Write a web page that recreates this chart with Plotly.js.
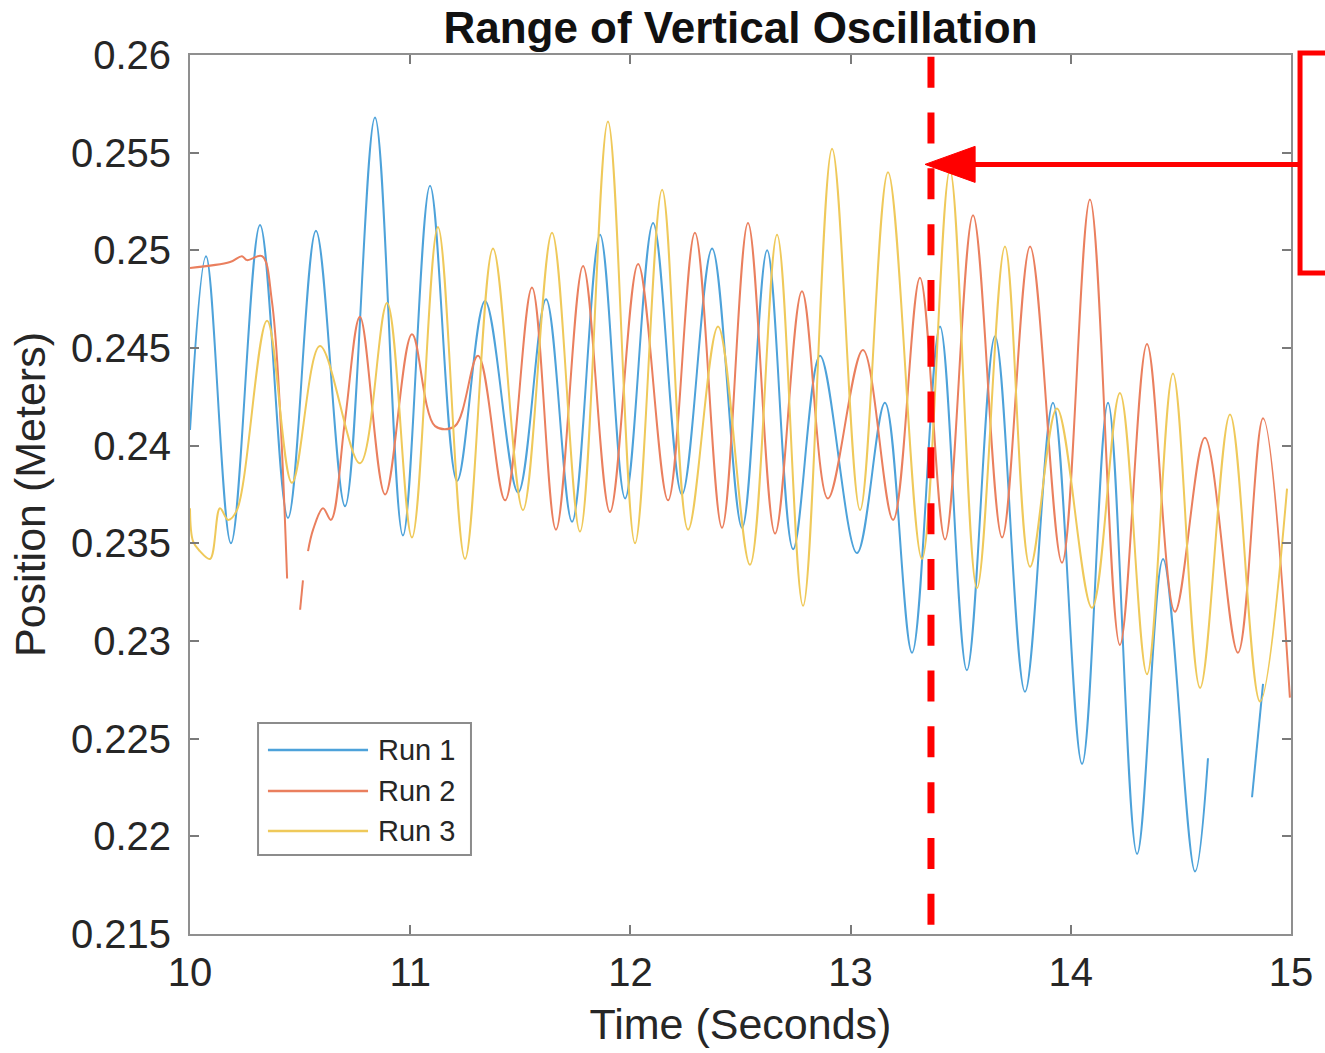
<!DOCTYPE html>
<html>
<head>
<meta charset="utf-8">
<script src="https://cdn.plot.ly/plotly-3.0.1.min.js"></script>
<style>html,body{margin:0;padding:0;background:#fff;}#chart{width:1325px;height:1053px;}</style>
</head>
<body>
<div id="chart"></div>
<script>
// ---- Data (turning points of each run) ----
const seriesNames = ["Run 1", "Run 2", "Run 3"];

const time1 = [10.000,10.073,10.186,10.318,10.445,10.572,10.704,10.840,10.967,11.090,11.213,11.340,11.490,11.617,11.735,11.862,11.976,12.103,12.234,12.371,12.507,12.621,12.739,12.861,13.029,13.156,13.279,13.406,13.528,13.656,13.792,13.919,14.051,14.169,14.301,14.419,14.564,14.623,14.700,14.823,14.873];
const run1  = [0.2408,0.2497,0.2350,0.2513,0.2363,0.2510,0.2369,0.2568,0.2354,0.2533,0.2382,0.2474,0.2376,0.2475,0.2361,0.2508,0.2373,0.2514,0.2375,0.2501,0.2358,0.2500,0.2347,0.2446,0.2345,0.2422,0.2294,0.2461,0.2285,0.2456,0.2274,0.2422,0.2237,0.2422,0.2191,0.2342,0.2182,0.2240,null,0.2220,0.2278];

const time2 = [10.000,10.182,10.236,10.259,10.327,10.372,10.441,10.470,10.500,10.513,10.525,10.536,10.559,10.604,10.640,10.704,10.772,10.886,11.008,11.113,11.203,11.308,11.431,11.553,11.662,11.785,11.907,12.035,12.171,12.293,12.416,12.534,12.657,12.779,12.897,13.056,13.193,13.315,13.429,13.556,13.688,13.815,13.960,14.087,14.223,14.346,14.473,14.609,14.759,14.873,14.995];
const run2  = [0.2491,0.2494,0.2497,0.2495,0.2497,0.2474,0.2332,null,0.2316,0.2331,null,0.2346,0.2357,0.2368,0.2362,0.2413,0.2466,0.2375,0.2457,0.2410,0.2410,0.2446,0.2372,0.2481,0.2357,0.2492,0.2366,0.2493,0.2372,0.2509,0.2358,0.2514,0.2355,0.2479,0.2373,0.2449,0.2362,0.2486,0.2352,0.2518,0.2353,0.2502,0.2340,0.2526,0.2298,0.2452,0.2315,0.2404,0.2294,0.2414,0.2271];

const time3 = [10.000,10.014,10.045,10.091,10.136,10.173,10.213,10.350,10.463,10.590,10.772,10.895,11.008,11.126,11.249,11.376,11.512,11.644,11.771,11.898,12.021,12.144,12.262,12.398,12.543,12.666,12.784,12.916,13.043,13.170,13.324,13.451,13.574,13.701,13.815,13.937,14.096,14.223,14.346,14.464,14.587,14.723,14.859,14.982];
const run3  = [0.2368,0.2351,0.2346,0.2342,0.2368,0.2362,0.2367,0.2464,0.2381,0.2451,0.2391,0.2473,0.2353,0.2512,0.2342,0.2501,0.2367,0.2509,0.2356,0.2566,0.2350,0.2531,0.2357,0.2461,0.2339,0.2508,0.2318,0.2552,0.2367,0.2540,0.2342,0.2541,0.2327,0.2502,0.2338,0.2419,0.2317,0.2427,0.2283,0.2437,0.2276,0.2416,0.2269,0.2378];

const xTickVals = [10, 11, 12, 13, 14, 15];
const xTickText = ["10", "11", "12", "13", "14", "15"];
const yTickVals = [0.215, 0.22, 0.225, 0.23, 0.235, 0.24, 0.245, 0.25, 0.255, 0.26];
const yTickText = ["0.215", "0.22", "0.225", "0.23", "0.235", "0.24", "0.245", "0.25", "0.255", "0.26"];

// annotation marker (red dashed line / arrow tip)
const markerTime = 13.338;
const markerLevel = 0.2544;

// ---- Styling ----
const colors = ["#4da2da", "#ea7f5e", "#efc95a"];
const FONT = "Liberation Sans, Arial, Helvetica, sans-serif";
const xMin = 10, xMax = 15, yMin = 0.215, yMax = 0.26;

const traces = [[time1, run1], [time2, run2], [time3, run3]].map((d, i) => ({
  x: d[0], y: d[1], type: "scatter", mode: "lines", name: seriesNames[i],
  connectgaps: false,
  line: {color: colors[i], width: 2, shape: "spline", smoothing: 1.0}
}));

const px = t => (t - xMin) / (xMax - xMin);
const py = v => (v - yMin) / (yMax - yMin);
const mx = px(markerTime), my = py(markerLevel);
const red = "#ff0000";

const shapes = [
  // dashed vertical line
  {type: "line", xref: "paper", yref: "paper", x0: mx + 0.0054, x1: mx + 0.0054, y0: 0.998, y1: 0.010,
   line: {color: red, width: 7, dash: "31px,24.8px"}},
  // arrow shaft
  {type: "line", xref: "paper", yref: "paper", x0: mx + 0.04, x1: 1.0082, y0: my, y1: my,
   line: {color: red, width: 5}},
  // arrow head
  {type: "path", xref: "paper", yref: "paper",
   path: `M ${mx} ${my} L ${mx + 0.0455} ${my + 0.0205} L ${mx + 0.0455} ${my - 0.0205} Z`,
   fillcolor: red, line: {color: red, width: 1}},
  // bracket
  {type: "path", xref: "paper", yref: "paper",
   path: "M 1.034 1.0023 L 1.0082 1.0023 L 1.0082 0.752 L 1.034 0.752",
   line: {color: red, width: 5}},
  // custom legend box
  {type: "rect", xref: "paper", yref: "paper", x0: 0.0618, x1: 0.2552, y0: 0.0899, y1: 0.240,
   line: {color: "#8c8c8c", width: 2}, fillcolor: "#ffffff"}
];
const legendRows = [0.2093, 0.1627, 0.1172];
const annotations = [];
seriesNames.forEach((n, i) => {
  shapes.push({type: "line", xref: "paper", yref: "paper", x0: 0.0708, x1: 0.1617,
    y0: legendRows[i], y1: legendRows[i], line: {color: colors[i], width: 2.5}});
  annotations.push({xref: "paper", yref: "paper", x: 0.1690, y: legendRows[i], xanchor: "left", yanchor: "middle",
    text: n, showarrow: false, font: {family: FONT, size: 29, color: "#262626"}});
});

const axisCommon = {
  showgrid: false, zeroline: false, showline: true, linecolor: "#8f8f8f", linewidth: 2,
  mirror: "ticks", ticks: "inside", ticklen: 9, tickwidth: 2, tickcolor: "#7a7a7a",
  tickfont: {family: FONT, size: 40, color: "#262626"}
};

const layout = {
  width: 1325, height: 1053,
  margin: {l: 190, r: 34, t: 55, b: 119, pad: 0},
  paper_bgcolor: "#ffffff", plot_bgcolor: "#ffffff",
  showlegend: false,
  title: {text: "<b>Range of Vertical Oscillation</b>", font: {family: FONT, size: 44, color: "#111"},
          xref: "paper", x: 0.5, xanchor: "center", yref: "container", y: 0.974, yanchor: "middle"},
  xaxis: Object.assign({}, axisCommon, {
    range: [xMin, xMax], tickvals: xTickVals, ticktext: xTickText, ticklabelstandoff: 2,
    title: {text: "Time (Seconds)", font: {family: FONT, size: 43, color: "#262626"}, standoff: 16}
  }),
  yaxis: Object.assign({}, axisCommon, {
    range: [yMin, yMax], tickvals: yTickVals, ticktext: yTickText, ticklabelstandoff: 9,
    title: {text: "Position (Meters)", font: {family: FONT, size: 43, color: "#262626"}, standoff: 12}
  }),
  shapes: shapes,
  annotations: annotations
};

Plotly.newPlot("chart", traces, layout, {displayModeBar: false, staticPlot: true});
</script>
</body>
</html>
